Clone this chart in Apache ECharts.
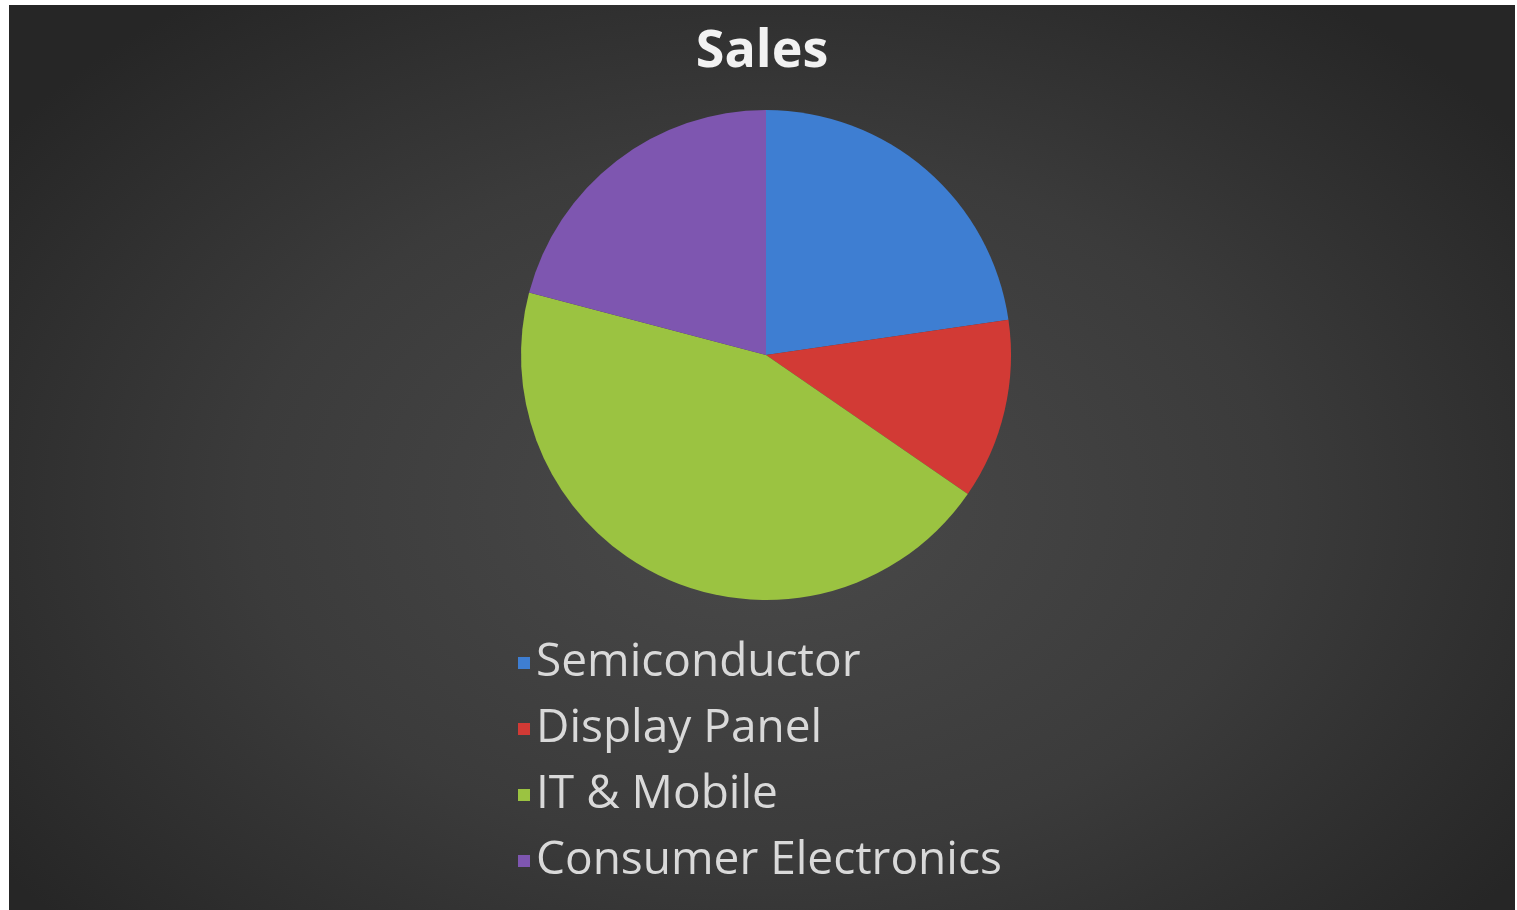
<!DOCTYPE html>
<html>
<head>
<meta charset="utf-8">
<title>Sales</title>
<script src="https://cdn.jsdelivr.net/npm/echarts@6/dist/echarts.min.js"></script>
<style>
    html, body {margin: 0; padding: 0; background: #ffffff;}
    #chart0 {
        position: absolute;
        left: 9px;
        top: 5px;
        width: 1506px;
        height: 905px;
        background: radial-gradient(ellipse 62% 70% at 50% 55%, #4a4a4a 0%, #3b3b3b 55%, #262626 100%);
    }
</style>
</head>
<body>
<div id="chart0"></div>
<script>
// sales share by division
var categories = ['Semiconductor', 'Display Panel', 'IT & Mobile', 'Consumer Electronics'];
var salesValues = [22.7, 11.9, 44.5, 20.9];
var sliceColors = ['#3e7ed2', '#d23a35', '#9bc341', '#7e56b0'];

var pieData = [];
for (var i = 0; i < categories.length; i++) {
    pieData.push({value: salesValues[i], name: categories[i], itemStyle: {color: sliceColors[i]}});
}

var option0 = {
    backgroundColor: 'transparent',
    title: {
        text: 'Sales',
        left: 'center',
        top: 16,
        textStyle: {
            color: '#f2f2f2',
            fontFamily: 'Open Sans',
            fontWeight: 'bold',
            fontSize: 52
        }
    },
    legend: {
        orient: 'vertical',
        left: 504,
        top: 628,
        itemWidth: 12,
        itemHeight: 12,
        itemGap: 16,
        icon: 'rect',
        data: categories,
        textStyle: {
            color: '#d9d9d9',
            fontFamily: 'Open Sans',
            fontSize: 46,
            lineHeight: 50,
            padding: [0, 0, 0, 1]
        }
    },
    series: [
        {
            name: 'Sales',
            type: 'pie',
            center: [757, 350],
            radius: 245,
            startAngle: 90,
            clockwise: true,
            label: {show: false},
            labelLine: {show: false},
            itemStyle: {borderWidth: 0},
            emphasis: {disabled: true},
            animation: false,
            data: pieData
        }
    ]
};

var myChart0 = echarts.init(document.getElementById('chart0'));
myChart0.setOption(option0);
</script>
</body>
</html>
